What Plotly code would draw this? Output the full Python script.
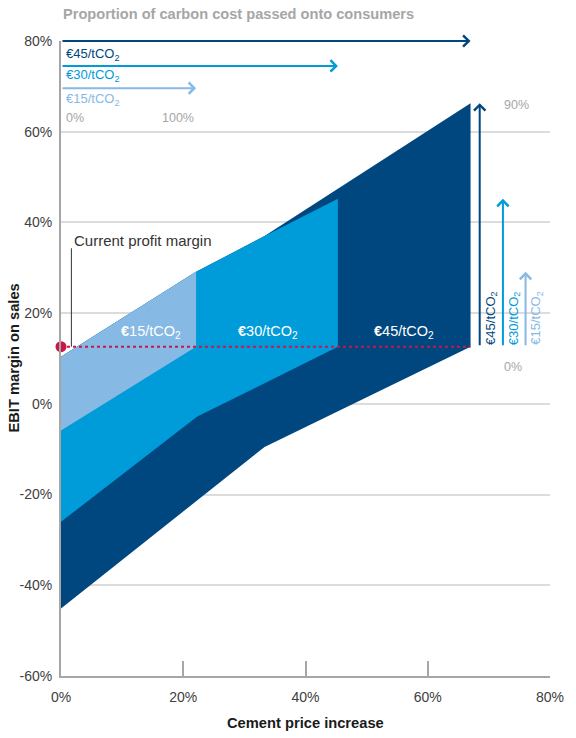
import plotly.graph_objects as go

# Carbon price scenarios, low to high
carbon_prices = ["15", "30", "45"]
current_margin = 12.6  # current EBIT margin on sales, %

# Band outlines: x = cement price increase (%), y = EBIT margin on sales (%)
band15_x = [0, 0, 22.1, 22.1, 0]
band15_y = [-5.9, 10.4, 29.1, 12.6, -5.9]
band30_x = [0, 0, 22.1, 33.3, 45.3, 45.3, 22.3, 0]
band30_y = [-26.0, 10.4, 29.1, 37.0, 45.2, 12.6, -2.8, -26.0]
band45_x = [0, 0, 22.1, 33.3, 67.0, 67.0, 33.3, 0]
band45_y = [-45.1, 10.4, 29.1, 37.0, 66.3, 12.6, -9.5, -45.1]

# Full pass-through point of each scenario (price increase, margin)
full_pass_x = [22.1, 45.3, 67.0]
full_pass_y = [29.1, 45.2, 66.3]

x_ticks = [0, 20, 40, 60, 80]
x_tick_text = ["0%", "20%", "40%", "60%", "80%"]
y_ticks = [-60, -40, -20, 0, 20, 40, 60, 80]
y_tick_text = ["-60%", "-40%", "-20%", "0%", "20%", "40%", "60%", "80%"]

colors = ["#86b9e3", "#009bd9", "#00477f"]
FONT = "Liberation Sans, Arial, sans-serif"
GREY = "#a6a6a6"

fig = go.Figure()

# Bands, drawn widest first so the narrower ones sit on top
for xs, ys, col in [(band45_x, band45_y, colors[2]),
                    (band30_x, band30_y, colors[1]),
                    (band15_x, band15_y, colors[0])]:
    fig.add_trace(go.Scatter(x=xs, y=ys, mode="lines", fill="toself",
                             fillcolor=col, line=dict(width=0, color=col),
                             hoverinfo="skip", showlegend=False))

# Current profit margin: dotted line + dot
fig.add_trace(go.Scatter(x=[0, full_pass_x[-1]], y=[current_margin, current_margin],
                         mode="lines", line=dict(color="#c8174b", width=2, dash="dot"),
                         hoverinfo="skip", showlegend=False))
fig.add_trace(go.Scatter(x=[0], y=[current_margin], mode="markers",
                         marker=dict(color="#c8174b", size=11), cliponaxis=False,
                         hoverinfo="skip", showlegend=False))
# Leader line for the label
fig.add_trace(go.Scatter(x=[1.7, 1.7], y=[current_margin, 34.3], mode="lines",
                         line=dict(color="#333333", width=1),
                         hoverinfo="skip", showlegend=False))

ann = []


def co2(p, bold_euro=False):
    euro = "<b>€</b>" if bold_euro else "€"
    return f"{euro}{p}/tCO<sub>2</sub>"


# Top arrows: proportion of carbon cost passed on (0% to 100%)
top_arrow_y = [69.6, 74.5, 80.0]
top_label_y = [67.0, 72.3, 77.1]
for i, p in enumerate(carbon_prices):
    ann.append(dict(x=full_pass_x[i], y=top_arrow_y[i], ax=0, ay=top_arrow_y[i],
                    xref="x", yref="y", axref="x", ayref="y", text="",
                    showarrow=True, arrowhead=4, arrowsize=1.1, arrowwidth=2,
                    arrowcolor=colors[i]))
    ann.append(dict(x=0.5, y=top_label_y[i], xref="x", yref="y", text=co2(p),
                    showarrow=False, xanchor="left", yanchor="middle",
                    font=dict(family=FONT, size=13, color=colors[i])))
ann.append(dict(x=0.5, y=63.0, xref="x", yref="y", text="0%", showarrow=False,
                xanchor="left", yanchor="middle", font=dict(family=FONT, size=12.5, color=GREY)))
ann.append(dict(x=full_pass_x[0], y=63.0, xref="x", yref="y", text="100%", showarrow=False,
                xanchor="right", yanchor="middle", font=dict(family=FONT, size=12.5, color=GREY)))

# Right-hand vertical arrows: margin gain at full pass-through
arrow_x = [76.0, 72.3, 68.5]
label_x = [77.8, 74.1, 70.3]
for i, p in enumerate(carbon_prices):
    ann.append(dict(x=arrow_x[i], y=full_pass_y[i], ax=arrow_x[i], ay=current_margin,
                    xref="x", yref="y", axref="x", ayref="y", text="",
                    showarrow=True, arrowhead=4, arrowsize=1.1, arrowwidth=2,
                    arrowcolor=colors[i]))
    ann.append(dict(x=label_x[i], y=current_margin, xref="x", yref="y", text=co2(p),
                    showarrow=False, textangle=-90, xanchor="center", yanchor="bottom",
                    font=dict(family=FONT, size=13, color=colors[i])))
ann.append(dict(x=72.2, y=65.9, xref="x", yref="y", text="90%", showarrow=False,
                xanchor="left", yanchor="middle", font=dict(family=FONT, size=12.5, color=GREY)))
ann.append(dict(x=72.2, y=8.2, xref="x", yref="y", text="0%", showarrow=False,
                xanchor="left", yanchor="middle", font=dict(family=FONT, size=12.5, color=GREY)))

# Band labels
band_label_x = [14.8, 33.8, 56.1]
for i, p in enumerate(carbon_prices):
    ann.append(dict(x=band_label_x[i], y=15.9, xref="x", yref="y",
                    text=co2(p, bold_euro=True), showarrow=False,
                    font=dict(family=FONT, size=14.5, color="white")))

ann.append(dict(x=1.8, y=36.1, xref="x", yref="y", text="Current profit margin",
                showarrow=False, xanchor="left", yanchor="middle",
                font=dict(family=FONT, size=15, color="#333333")))

# Heading and axis titles
ann.append(dict(x=0, y=1.0425, xref="paper", yref="paper",
                text="<b>Proportion of carbon cost passed onto consumers</b>",
                showarrow=False, xanchor="left", yanchor="middle",
                font=dict(family=FONT, size=14.6, color=GREY)))
ann.append(dict(x=-0.098, y=0.5, xref="paper", yref="paper",
                text="<b>EBIT margin on sales</b>", textangle=-90, showarrow=False,
                xanchor="center", yanchor="middle",
                font=dict(family=FONT, size=14.7, color="#1a1a1a")))
ann.append(dict(x=0.5, y=-0.074, xref="paper", yref="paper",
                text="<b>Cement price increase</b>", showarrow=False,
                xanchor="center", yanchor="middle",
                font=dict(family=FONT, size=14.7, color="#1a1a1a")))

fig.update_layout(
    width=576, height=738,
    margin=dict(l=61, r=17, t=41, b=62),
    paper_bgcolor="white", plot_bgcolor="white",
    annotations=ann,
    xaxis=dict(range=[0, 80], tickvals=x_ticks, ticktext=x_tick_text,
               showgrid=False, zeroline=False, showline=True, linecolor=GREY,
               linewidth=2, ticks="inside", ticklen=15, tickwidth=2, tickcolor=GREY,
               ticklabelstandoff=7,
               tickfont=dict(family=FONT, size=14, color="#404040"), fixedrange=True),
    yaxis=dict(range=[-60, 80], tickvals=y_ticks, ticktext=y_tick_text,
               showgrid=True, gridcolor="#dcdcdc", gridwidth=1.5, zeroline=False,
               showline=True, linecolor=GREY, linewidth=2, ticks="",
               ticklabelstandoff=4,
               tickfont=dict(family=FONT, size=14, color="#404040"), fixedrange=True),
)

fig.write_html("out.html")
